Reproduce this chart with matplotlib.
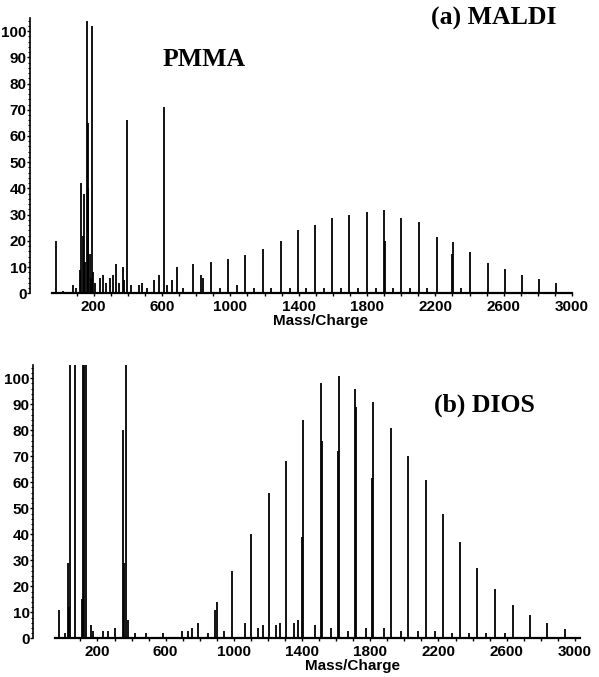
import numpy as np
import matplotlib.pyplot as plt
from matplotlib.ticker import MultipleLocator, FixedLocator

plt.rcParams['font.family'] = ['Liberation Sans', 'DejaVu Sans']

# (a) MALDI spectrum: m/z and relative intensity of the peaks
maldi_mz = [-22, 20, 76, 95, 118, 128, 136, 143, 150, 161, 165, 169, 177, 184, 192, 196,
            210, 235, 253, 270, 293, 313, 332, 350, 369, 380, 397, 420, 468, 483, 510,
            550, 585, 612, 630, 661, 688, 720, 779, 828, 840, 887, 940, 986, 1040, 1087,
            1140, 1192, 1240, 1295, 1350, 1396, 1445, 1493, 1550, 1596, 1650, 1694,
            1745, 1797, 1850, 1898, 1903, 1950, 1999, 2050, 2102, 2150, 2207, 2297,
            2302, 2350, 2405, 2506, 2608, 2709, 2806, 2909]
maldi_int = [20, 1, 3, 2, 9, 42, 22, 38, 12, 104, 40, 65, 15, 6, 102, 8,
             4, 6, 7, 4, 6, 7, 11, 4, 10, 5, 66, 3, 3, 4, 2,
             5, 7, 71, 3, 5, 10, 2, 11, 7, 6, 12, 2, 13, 3, 14.5,
             2, 17, 2, 20, 2, 24, 2, 26, 2, 28.8, 2, 29.9,
             2, 30.9, 2, 31.8, 20, 2, 28.8, 2, 27.1, 2, 21.3, 15,
             19.4, 2, 15.6, 11.4, 9.3, 6.9, 5.3, 3.8]

# (b) DIOS spectrum
dios_mz = [-26, 10, 25, 33, 39, 70, 107, 113, 121, 133, 160, 175, 230, 260, 300,
           348, 355, 367, 381, 420, 484, 586, 694, 730, 752, 791, 850, 889, 899,
           940, 991, 1065, 1098, 1140, 1169, 1204, 1245, 1270, 1306, 1350, 1378,
           1400, 1407, 1476, 1509, 1515, 1572, 1609, 1616, 1670, 1710, 1716, 1775,
           1808, 1818, 1880, 1921, 1980, 2023, 2080, 2125, 2180, 2225, 2280, 2326,
           2380, 2424, 2480, 2531, 2590, 2635, 2737, 2838, 2942]
dios_int = [11, 2, 29, 12, 105, 105, 15, 105, 105, 105, 5, 3, 3, 3, 4,
            80, 29, 105, 7, 2, 2, 2, 3, 3, 4, 6, 2, 11, 14,
            3, 26, 6, 40, 4, 5, 56, 5, 6, 68, 6, 7,
            39, 84, 5, 98, 76, 4, 72, 101, 3, 96, 89, 4,
            61.5, 91, 4, 81, 3, 70, 3, 61, 3, 48, 2, 37,
            2, 27, 2, 19, 2, 13, 9, 6, 3.5]

yticks = list(range(0, 101, 10))
xticks = [200, 600, 1000, 1400, 1800, 2200, 2600, 3000]

fig = plt.figure(figsize=(5.99, 6.77), dpi=100)
ax1 = fig.add_axes([30/599, 1-293.3/677, 542/599, 275.3/677])
ax2 = fig.add_axes([33/599, 1-638.3/677, 547/599, 273/677])


def style(ax, xlo, xstart, xend):
    ax.set_xlim(xlo, xend)
    ax.set_ylim(0, 105)
    for s in ['top', 'right']:
        ax.spines[s].set_visible(False)
    ax.spines['bottom'].set_bounds(xstart, xend)
    ax.spines['bottom'].set_linewidth(1.6)
    ax.spines['left'].set_linewidth(1.2)
    ax.yaxis.set_major_locator(FixedLocator(yticks))
    ax.yaxis.set_minor_locator(MultipleLocator(2))
    ax.xaxis.set_major_locator(FixedLocator(xticks))
    ax.xaxis.set_minor_locator(FixedLocator(np.arange(100, xend + 1, 100)))
    ax.tick_params(axis='y', which='major', length=2, width=1, pad=0.5)
    ax.tick_params(axis='y', which='minor', length=1.2, width=0.8)
    ax.tick_params(axis='x', which='both', length=2.5, width=1, pad=2)
    for lab in ax.get_xticklabels() + ax.get_yticklabels():
        lab.set_fontweight('bold')
        lab.set_fontsize(11)


ax1.vlines(maldi_mz, 0, maldi_int, colors='black', linewidth=1.3)
style(ax1, -173, -45, 3000)
fig.text(320/599, 1-321/677, 'Mass/Charge', ha='center', va='center',
         fontsize=11, fontweight='bold')
fig.text(494/599, 1-18/677, '(a) MALDI', ha='center', va='center',
         family='Liberation Serif', fontsize=18.5, fontweight='bold')
fig.text(204/599, 1-60/677, 'PMMA', ha='center', va='center',
         family='Liberation Serif', fontsize=18.5, fontweight='bold')

ax2.vlines(dios_mz, 0, dios_int, colors='black', linewidth=1.3)
style(ax2, -178, -49, 3030)
fig.text(353/599, 1-666/677, 'Mass/Charge', ha='center', va='center',
         fontsize=11, fontweight='bold')
fig.text(484/599, 1-405/677, '(b) DIOS', ha='center', va='center',
         family='Liberation Serif', fontsize=18.5, fontweight='bold')

fig.savefig('out.png', dpi=100)
